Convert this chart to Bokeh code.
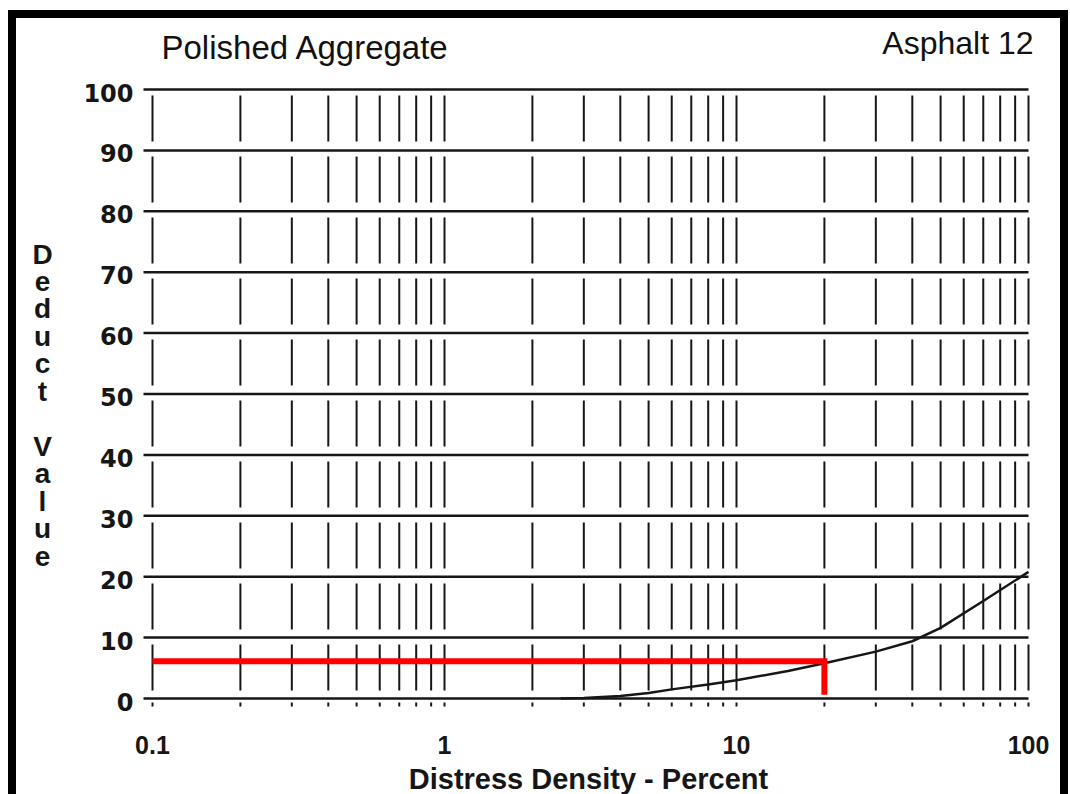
import math
from bokeh.plotting import figure
from bokeh.embed import file_html
from bokeh.resources import INLINE
from bokeh.models import Range1d
from bokeh.core.properties import value

# ---- data ----
x_major = [0.1, 1, 10, 100]
x_tick_labels = ["0.1", "1", "10", "100"]
x_minor = [0.2, 0.3, 0.4, 0.5, 0.6, 0.7, 0.8, 0.9,
           2, 3, 4, 5, 6, 7, 8, 9,
           20, 30, 40, 50, 60, 70, 80, 90]
y_ticks = [0, 10, 20, 30, 40, 50, 60, 70, 80, 90, 100]
y_tick_labels = [str(v) for v in y_ticks]

curve_x = [2.5, 3, 4, 5, 6, 8, 10, 15, 20, 30, 40, 50, 70, 100]
curve_y = [0.0, 0.1, 0.4, 0.9, 1.5, 2.3, 3.0, 4.5, 5.8, 7.7, 9.4, 11.6, 16.0, 20.8]

red_x = [0.1, 20, 20]
red_y = [6.1, 6.1, 0.6]

title_text = "Polished Aggregate"
corner_text = "Asphalt 12"
x_label = "Distress Density - Percent"
y_label = "Deduct Value"

NUM_FONT = "DejaVu Sans"
TXT_FONT = "Liberation Sans"
INK = "#161616"

# ---- layout (page pixels) ----
PX_LEFT, PX_RIGHT = 152, 1028      # x = 0.1 and x = 100
PX_TOP, PX_BOTTOM = 89, 698        # y = 100 and y = 0
CX0, CY0 = 16, 18                  # canvas origin on the page (inside the frame border)
W, H = 1060, 784

decade_px = (PX_RIGHT - PX_LEFT) / 3.0
unit_px = (PX_BOTTOM - PX_TOP) / 100.0
x_lo, x_hi = min(x_major), max(x_major)
y_lo, y_hi = min(y_ticks), max(y_ticks)
x_start = x_lo * 10 ** ((CX0 - PX_LEFT) / decade_px)
x_end = x_hi * 10 ** ((CX0 + W - PX_RIGHT) / decade_px)
y_start = y_lo - (CY0 + H - PX_BOTTOM) / unit_px
y_end = y_hi + (PX_TOP - CY0) / unit_px

p = figure(width=W, height=H, x_axis_type="log",
           x_range=Range1d(x_start, x_end), y_range=Range1d(y_start, y_end),
           x_axis_location=None, y_axis_location=None,
           output_backend="svg", toolbar_location=None,
           min_border=0, min_border_left=0, min_border_right=0,
           min_border_top=0, min_border_bottom=0,
           background_fill_color="white", border_fill_color="white",
           styles={"margin-left": "8px", "margin-top": "10px",
                   "border-top": "8px solid black",
                   "border-left": "8px solid black",
                   "border-right": "8px solid black"})
p.outline_line_color = None
p.grid.visible = False

# horizontal grid lines (with the little outward tick on the left)
tick_len = 9
x_tick_start = x_lo * 10 ** (-tick_len / decade_px)
p.segment(x0=[x_tick_start] * len(y_ticks), x1=[x_hi] * len(y_ticks),
          y0=y_ticks, y1=y_ticks, line_color=INK, line_width=2.5)

# vertical broken grid lines
x_all = x_major + x_minor
p.segment(x0=x_all, x1=x_all, y0=[y_lo] * len(x_all), y1=[y_hi] * len(x_all),
          line_color=INK, line_width=2, line_dash="46 15", line_dash_offset=53)
# small dots under the zero line
p.segment(x0=x_all, x1=x_all,
          y0=[y_lo - 4 / unit_px] * len(x_all), y1=[y_lo - 8 / unit_px] * len(x_all),
          line_color=INK, line_width=2)

# tick labels
p.text(x=[x_lo] * len(y_ticks), y=y_ticks, text=y_tick_labels,
       x_offset=-19, y_offset=3,
       text_font=value(NUM_FONT), text_font_style="bold", text_font_size=value("24px"),
       text_color=INK, text_align="right", text_baseline="middle")
p.text(x=x_major, y=[y_lo] * len(x_major), text=x_tick_labels,
       x_offset=0, y_offset=46,
       text_font=value(TXT_FONT), text_font_style="bold", text_font_size=value("25px"),
       text_color=INK, text_align="center", text_baseline="middle")

# data
p.line(curve_x, curve_y, line_color=INK, line_width=2.5)
p.line(red_x, red_y, line_color="#ff0000", line_width=6, line_join="miter", line_cap="butt")

# titles and axis titles, anchored to the chart corners (offsets in pixels, down = +)
x_mid = 10 ** ((math.log10(x_lo) + math.log10(x_hi)) / 2)
p.text(x=[x_lo], y=[y_hi], text=[title_text], x_offset=9, y_offset=-61,
       text_font=value(TXT_FONT), text_font_size=value("33px"),
       text_color="#111111", text_align="left", text_baseline="top")
p.text(x=[x_hi], y=[y_hi], text=[corner_text], x_offset=5, y_offset=-65,
       text_font=value(TXT_FONT), text_font_size=value("32px"),
       text_color="#111111", text_align="right", text_baseline="top")
p.text(x=[x_mid], y=[y_lo], text=[x_label], x_offset=-2, y_offset=64,
       text_font=value(TXT_FONT), text_font_style="bold", text_font_size=value("29px"),
       text_color=INK, text_align="center", text_baseline="top")
p.text(x=[x_lo], y=[y_hi], text=["\n".join(list(y_label.replace(" ", "\u00a0")))],
       x_offset=-110, y_offset=149, text_line_height=0.886,
       text_font=value(TXT_FONT), text_font_style="bold", text_font_size=value("28px"),
       text_color=INK, text_align="center", text_baseline="top")

open("out.html", "w").write(file_html(p, INLINE))
